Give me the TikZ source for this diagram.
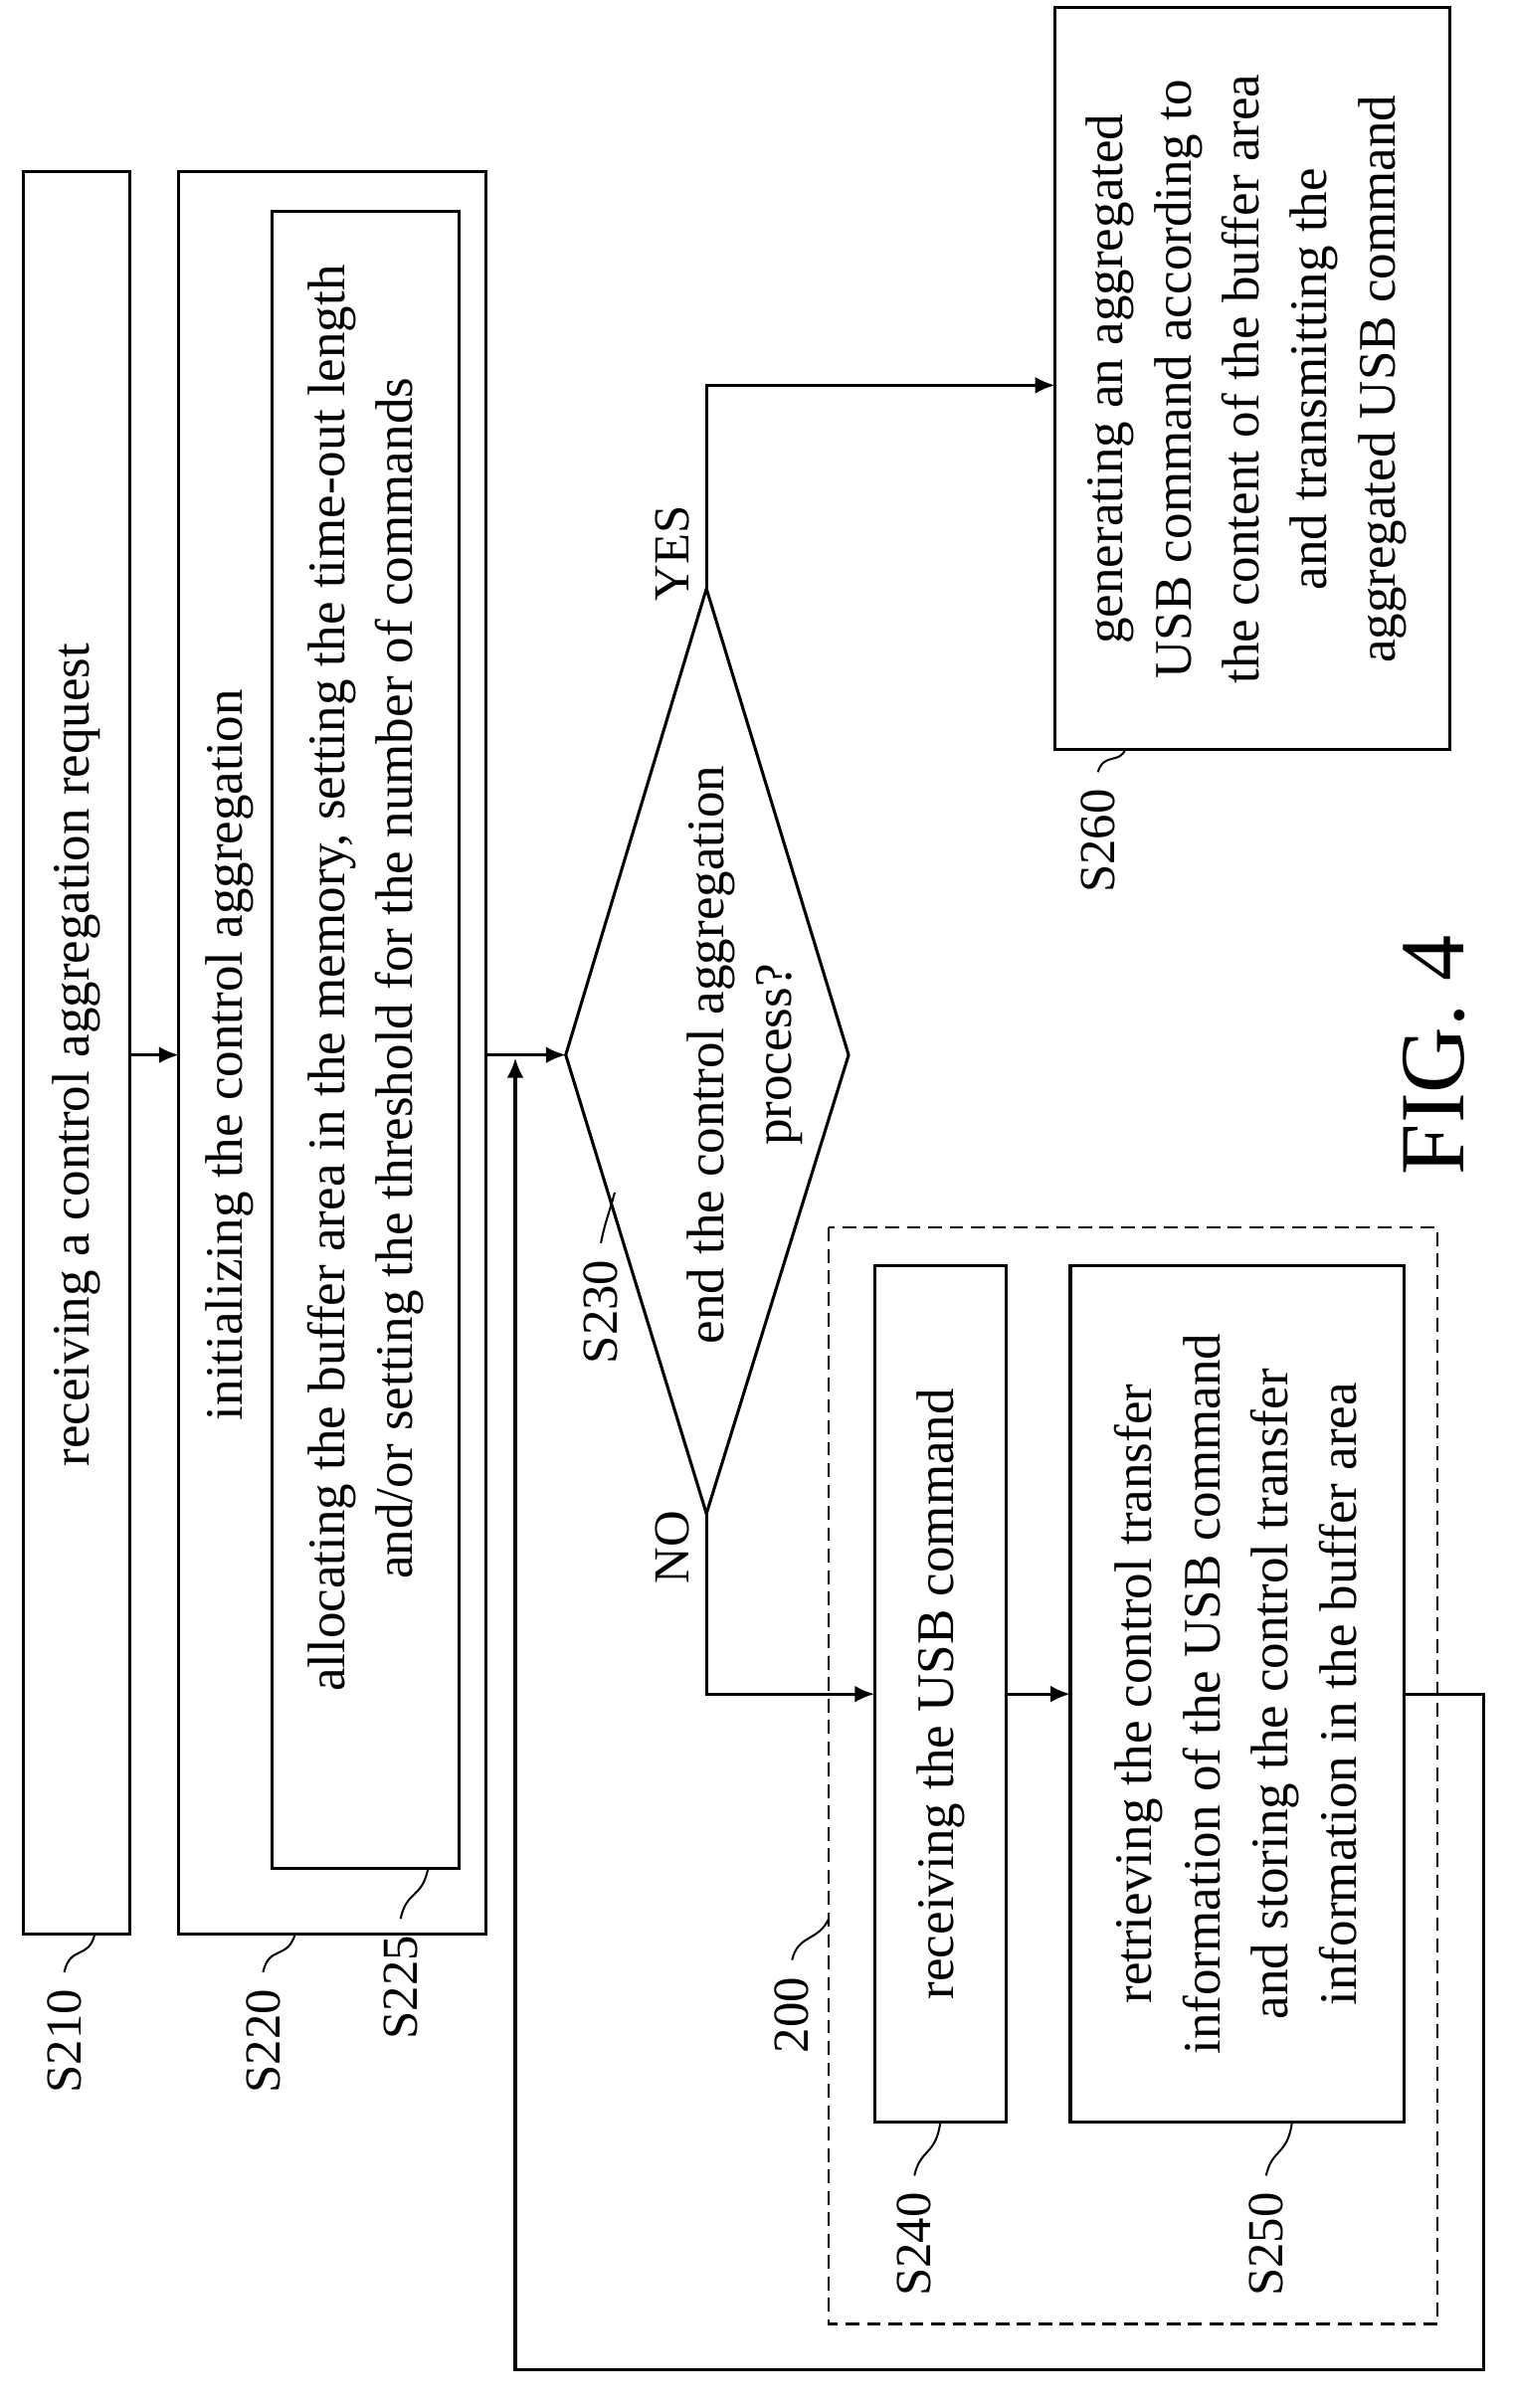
\documentclass[tikz,border=0pt]{standalone}
\usepackage{fontspec}
\setmainfont{Liberation Serif}
\usetikzlibrary{arrows.meta}
\begin{document}
\begin{tikzpicture}[x=1pt,y=-1pt,line width=2pt,
  box/.style={draw},
  txt/.style={rotate=90,font=\fontsize{34.5}{44.5}\selectfont,align=center,inner sep=0pt},
  lab/.style={rotate=90,font=\fontsize{33}{38}\selectfont,inner sep=0pt},
  arr/.style={-{Latex[length=13pt,width=11pt]}},
  lead/.style={line width=1.3pt}]
\useasboundingbox (0,0) rectangle (990,1575);
% boxes
\draw[box] (15,112) rectangle (85,1265);
\node[txt] (t210) at (50,690) {receiving a control aggregation request};
\draw[box] (117,112) rectangle (318,1265);
\node[txt] (t220) at (150,690) {initializing the control aggregation};
\draw[box] (178,138) rectangle (300,1222);
\node[txt] (t225) at (239,640) {allocating the buffer area in the memory, setting the time-out length\\and/or setting the threshold for the number of commands};
\draw (370,690) -- (462,385) -- (555,690) -- (462,990) -- cycle;
\coordinate (dl) at (370,690); \coordinate (dt) at (462,385); \coordinate (db) at (462,990);
\node[txt] (t230) at (487,690) {end the control aggregation\\process?};
\draw[box] (690,5) rectangle (948,490);
\node[txt] (t260) at (815,248) {generating an aggregated\\USB command according to\\the content of the buffer area\\and transmitting the\\aggregated USB command};
\draw[dash pattern=on 9pt off 5pt,line width=1.5pt] (542,803) rectangle (940,1520);
\draw[box] (572,828) rectangle (658,1388);
\node[txt] (t240) at (615,1108) {receiving the USB command};
\draw[box] (700,828) rectangle (918,1388);
\node[txt] (t250) at (808,1108) {retrieving the control transfer\\information of the USB command\\and storing the control transfer\\information in the buffer area};
% connectors
\draw[arr] (85,690) -- (117,690);
\draw[arr] (318,690) -- (dl);
\draw[arr] (dt) -- (462,252) -- (690,252);
\draw[arr] (db) -- (462,1108) -- (572,1108);
\draw[arr] (658,1108) -- (700,1108);
\draw[arr] (918,1108) -- (970,1108) -- (970,1550) -- (337,1550) -- (337,692);
\node[lab] at (440,362) {YES};
\node[lab] at (440,1012) {NO};
\node[font=\fontsize{60}{66}\selectfont,rotate=90,inner sep=0pt] at (938,690) {FIG. 4};
% step labels
\node[lab] (l210) at (42,1335) {S210};
\draw[lead] (42,1290) .. controls (46,1272) and (58,1282) .. (62,1265);
\node[lab] (l220) at (172,1335) {S220};
\draw[lead] (172,1290) .. controls (176,1272) and (188,1282) .. (193,1265);
\node[lab] (l225) at (262,1300) {S225};
\draw[lead] (262,1255) .. controls (266,1236) and (276,1242) .. (280,1222);
\node[lab] (l230) at (393,858) {S230};
\draw[lead] (393,813) .. controls (396,798) and (398,795) .. (402,780);
\node[lab] (l240) at (598,1468) {S240};
\draw[lead] (598,1423) .. controls (602,1405) and (612,1410) .. (615,1388);
\node[lab] (l250) at (828,1468) {S250};
\draw[lead] (828,1423) .. controls (832,1405) and (842,1410) .. (845,1388);
\node[lab] (l260) at (718,550) {S260};
\draw[lead] (718,505) .. controls (722,492) and (732,500) .. (736,490);
\node[lab] (l200) at (518,1318) {200};
\draw[lead] (518,1282) .. controls (522,1265) and (535,1270) .. (542,1255);
\end{tikzpicture}
\end{document}
